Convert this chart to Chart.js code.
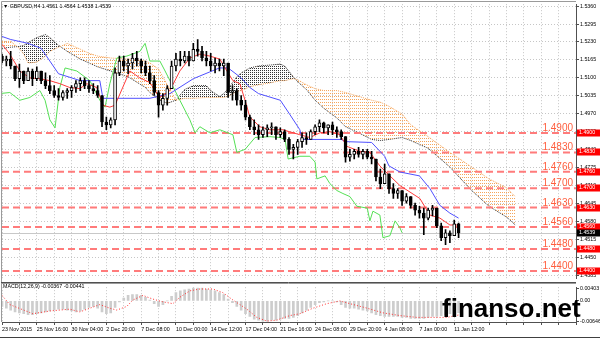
<!DOCTYPE html>
<html>
<head>
<meta charset="utf-8">
<script src="https://cdn.jsdelivr.net/npm/chart.js@4"></script>
<style>
  html, body { margin: 0; padding: 0; background: #fff; }
  #wrap { position: relative; width: 600px; height: 338px; overflow: hidden; }
  canvas { position: absolute; left: 0; }
  #main { top: 0; }
  #macd { top: 283px; }
</style>
</head>
<body>
<div id="wrap">
  <canvas id="main" width="600" height="283"></canvas>
  <canvas id="macd" width="600" height="55"></canvas>
</div>
<script>
// ---- data (one candle = 2 x H4) ----
const xTickLabels = ['23 Nov 2015', '25 Nov 16:00', '30 Nov 04:00', '2 Dec 20:00', '7 Dec 08:00',
  '10 Dec 00:00', '14 Dec 12:00', '17 Dec 04:00', '21 Dec 16:00', '24 Dec 08:00',
  '29 Dec 20:00', '4 Jan 08:00', '7 Jan 00:00', '11 Jan 12:00'];
const priceTicks = [1.5360, 1.5295, 1.5230, 1.5165, 1.5100, 1.5035, 1.4970, 1.4905,
  1.4840, 1.4775, 1.4710, 1.4645, 1.4580, 1.4515, 1.4450, 1.4385];
const levels = [1.4900, 1.4830, 1.4760, 1.4700, 1.4630, 1.4560, 1.4480, 1.4400];
const lastPrice = 1.4539;

const opens = [1.5179,1.5161,1.5168,1.5143,1.5097,1.5125,1.5090,1.5125,1.5097,1.5125,
  1.5090,1.5072,1.5054,1.5036,1.5029,1.5047,1.5054,1.5065,1.5079,1.5090,
  1.5072,1.5061,1.5054,1.5036,1.4940,1.4930,1.4948,1.5118,1.5161,1.5143,
  1.5154,1.5172,1.5161,1.5143,1.5118,1.5090,1.5047,1.5001,1.5026,1.5061,
  1.5143,1.5168,1.5161,1.5179,1.5161,1.5203,1.5196,1.5172,1.5161,1.5143,
  1.5154,1.5143,1.5154,1.5047,1.5054,1.5019,1.5001,1.4958,1.4923,1.4912,
  1.4894,1.4912,1.4919,1.4923,1.4894,1.4905,1.4877,1.4841,1.4848,1.4869,
  1.4884,1.4877,1.4905,1.4923,1.4937,1.4919,1.4930,1.4912,1.4905,1.4887,
  1.4813,1.4823,1.4834,1.4823,1.4834,1.4813,1.4806,1.4741,1.4717,1.4752,
  1.4699,1.4681,1.4692,1.4653,1.4670,1.4638,1.4621,1.4610,1.4592,1.4621,
  1.4628,1.4564,1.4521,1.4539,1.4528,1.4571];
const highs = [1.5186,1.5179,1.5196,1.5143,1.5150,1.5125,1.5136,1.5132,1.5140,1.5125,
  1.5118,1.5108,1.5072,1.5061,1.5054,1.5061,1.5072,1.5090,1.5100,1.5100,
  1.5090,1.5079,1.5072,1.5036,1.4958,1.4955,1.5136,1.5179,1.5179,1.5168,
  1.5189,1.5196,1.5168,1.5161,1.5143,1.5108,1.5054,1.5043,1.5072,1.5161,
  1.5189,1.5196,1.5196,1.5196,1.5225,1.5239,1.5214,1.5196,1.5189,1.5172,
  1.5168,1.5168,1.5154,1.5072,1.5061,1.5036,1.5019,1.4965,1.4948,1.4930,
  1.4923,1.4930,1.4937,1.4923,1.4919,1.4912,1.4884,1.4859,1.4877,1.4901,
  1.4901,1.4912,1.4930,1.4948,1.4940,1.4930,1.4940,1.4923,1.4912,1.4887,
  1.4841,1.4841,1.4848,1.4841,1.4841,1.4834,1.4806,1.4770,1.4788,1.4752,
  1.4717,1.4699,1.4692,1.4681,1.4670,1.4646,1.4635,1.4628,1.4628,1.4638,
  1.4628,1.4574,1.4550,1.4546,1.4585,1.4574];
const lows = [1.5154,1.5143,1.5132,1.5090,1.5065,1.5079,1.5090,1.5072,1.5090,1.5079,
  1.5061,1.5043,1.5029,1.5019,1.5019,1.5026,1.5029,1.5047,1.5054,1.5061,
  1.5047,1.5043,1.5029,1.4923,1.4912,1.4919,1.4930,1.5108,1.5125,1.5115,
  1.5132,1.5143,1.5118,1.5108,1.5079,1.5036,1.4958,1.4983,1.5001,1.5061,
  1.5125,1.5143,1.5154,1.5143,1.5161,1.5179,1.5161,1.5143,1.5125,1.5118,
  1.5125,1.5108,1.5029,1.5019,1.5001,1.4983,1.4948,1.4912,1.4894,1.4877,
  1.4884,1.4887,1.4894,1.4877,1.4884,1.4869,1.4823,1.4806,1.4823,1.4848,
  1.4859,1.4877,1.4894,1.4905,1.4901,1.4894,1.4894,1.4884,1.4877,1.4795,
  1.4798,1.4806,1.4813,1.4806,1.4806,1.4788,1.4727,1.4699,1.4717,1.4681,
  1.4663,1.4663,1.4638,1.4646,1.4628,1.4603,1.4592,1.4532,1.4585,1.4600,
  1.4557,1.4510,1.4496,1.4503,1.4528,1.4521];
const closes = [1.5161,1.5168,1.5143,1.5097,1.5125,1.5090,1.5125,1.5097,1.5125,1.5090,
  1.5072,1.5054,1.5036,1.5029,1.5047,1.5054,1.5065,1.5079,1.5090,1.5072,
  1.5061,1.5054,1.5036,1.4940,1.4930,1.4948,1.5118,1.5161,1.5143,1.5154,
  1.5172,1.5161,1.5143,1.5118,1.5090,1.5047,1.5001,1.5026,1.5061,1.5143,
  1.5168,1.5161,1.5179,1.5161,1.5203,1.5196,1.5172,1.5161,1.5143,1.5154,
  1.5143,1.5154,1.5047,1.5054,1.5019,1.5001,1.4958,1.4923,1.4912,1.4894,
  1.4912,1.4919,1.4923,1.4894,1.4905,1.4877,1.4841,1.4848,1.4869,1.4884,
  1.4877,1.4905,1.4923,1.4937,1.4919,1.4930,1.4912,1.4905,1.4887,1.4813,
  1.4823,1.4834,1.4823,1.4834,1.4813,1.4806,1.4741,1.4717,1.4752,1.4699,
  1.4681,1.4692,1.4653,1.4670,1.4638,1.4621,1.4610,1.4592,1.4621,1.4628,
  1.4564,1.4521,1.4539,1.4528,1.4571,1.4539];

// ichimoku lines as [slot, price] read points
const tenkan = [[0,1.5222],[1.8,1.5186],[4.1,1.5125],[6.4,1.5100],[8.7,1.5097],[11,1.5090],
  [13.3,1.5079],[15.6,1.5065],[17.9,1.5061],[19.5,1.5079],[21.8,1.5065],[23.2,1.5001],
  [24.8,1.4994],[26,1.5001],[29.4,1.5125],[31.7,1.5100],[34,1.5083],[36.3,1.5029],
  [38.6,1.5054],[40.9,1.5125],[43.2,1.5172],[45.5,1.5186],[47.8,1.5179],[50.1,1.5168],
  [51.3,1.5136],[53.1,1.5090],[54.7,1.5079],[55.9,1.5019],[57,1.4958],[59.3,1.4923],
  [61.6,1.4912],[64.6,1.4912],[68.5,1.4894],[70.8,1.4884],[73.1,1.4901],[75.4,1.4905],
  [77.7,1.4894],[79.3,1.4852],[82.3,1.4834],[84.6,1.4830],[86.9,1.4781],[89.2,1.4745],
  [91.5,1.4710],[96.1,1.4663],[98.4,1.4603],[100.7,1.4592],[103,1.4567],[105,1.4567]];
const kijun = [[0,1.5250],[2,1.5239],[6,1.5225],[9,1.5207],[11,1.5161],[13,1.5115],
  [18,1.5090],[22.5,1.5090],[23.2,1.5026],[34,1.5026],[38.6,1.5043],[44,1.5097],
  [50,1.5136],[52,1.5136],[55,1.5100],[57,1.5065],[59,1.5043],[64,1.5019],[66,1.4972],
  [68.5,1.4912],[69,1.4877],[78,1.4877],[79,1.4869],[85,1.4866],[88,1.4816],[89,1.4781],
  [91.5,1.4759],[96,1.4745],[98.4,1.4699],[100.7,1.4638],[103,1.4610],[105,1.4592]];
const chikou = [[0,1.5044],[1.8,1.5047],[4.1,1.5019],[6.4,1.5029],[8.7,1.5054],[9.9,1.5019],
  [11,1.4948],[12.2,1.4919],[13.3,1.5065],[14.5,1.5136],[17.2,1.5125],[20.2,1.5090],
  [22.5,1.5019],[23.7,1.4994],[24.8,1.5079],[26.4,1.5172],[28.7,1.5179],[31.7,1.5196],
  [32.9,1.5225],[34,1.5161],[36.3,1.5161],[37.5,1.5125],[40.9,1.5019],[43.2,1.4948],
  [44.4,1.4901],[45.5,1.4923],[47.8,1.4901],[50.1,1.4912],[53.1,1.4894],[54,1.4830],
  [55.9,1.4841],[58.2,1.4884],[61.6,1.4887],[63.9,1.4884],[65.1,1.4877],[65.8,1.4806],
  [68.5,1.4816],[70.8,1.4816],[72,1.4795],[72.4,1.4734],[74.3,1.4745],[75.4,1.4717],
  [77,1.4692],[78.4,1.4681],[80,1.4670],[81.6,1.4635],[84,1.4628],[84.6,1.4582],
  [85.3,1.4617],[86.9,1.4603],[87.6,1.4521],[89.2,1.4528],[90.4,1.4582],[91.5,1.4557],[92,1.4539]];

const cloudSlots = [0,2,4,5,6,8,10,11,12,13,15,18,20,22,25,29,33,34,36,38,40,42,44,47,48,50,51,
  52,54,55,57,59,62,64,65,67,68,70,72,74,77,79,82,85,87,89,92,94,98,103,108,112,116,118];
const spanA = [1.5232,1.5232,1.5207,1.5186,1.5154,1.5157,1.5179,1.5196,1.5204,1.5211,1.5225,
  1.5204,1.5189,1.5179,1.5172,1.5168,1.5161,1.5154,1.5132,1.5075,1.5019,1.5026,1.5026,1.5029,
  1.5029,1.5029,1.5029,1.5033,1.5051,1.5054,1.5068,1.5075,1.5083,1.5090,1.5090,1.5097,1.5093,
  1.5075,1.5061,1.5054,1.5054,1.5047,1.5033,1.5019,1.5012,1.4997,1.4969,1.4930,1.4887,1.4830,
  1.4777,1.4734,1.4702,1.4670];
const spanB = [1.5207,1.5211,1.5214,1.5218,1.5228,1.5246,1.5257,1.5246,1.5232,1.5218,1.5196,
  1.5168,1.5154,1.5140,1.5125,1.5104,1.5065,1.5047,1.5022,1.5008,1.5019,1.5058,1.5072,1.5072,
  1.5054,1.5033,1.5043,1.5061,1.5104,1.5118,1.5136,1.5143,1.5147,1.5150,1.5143,1.5104,1.5086,
  1.5058,1.5019,1.4990,1.4955,1.4923,1.4901,1.4877,1.4873,1.4877,1.4884,1.4873,1.4845,1.4777,
  1.4692,1.4635,1.4596,1.4568];

const macdMain = [-0.00172,-0.00229,-0.00287,-0.00344,-0.00373,-0.00401,
  -0.00430,-0.00430,-0.00401,-0.00373,-0.00344,-0.00315,
  -0.00287,-0.00258,-0.00258,-0.00287,-0.00315,-0.00344,
  -0.00315,-0.00258,-0.00201,-0.00172,-0.00229,-0.00344,
  -0.00401,-0.00373,-0.00201,-0.00029,0.00086,0.00172,
  0.00201,0.00201,0.00172,0.00115,0.00029,-0.00086,
  -0.00172,-0.00115,0.0,0.00143,0.00258,0.00315,
  0.00344,0.00373,0.00401,0.00401,0.00401,0.00373,
  0.00344,0.00315,0.00258,0.00201,0.00057,-0.00057,
  -0.00172,-0.00287,-0.00401,-0.00488,-0.00574,-0.00602,
  -0.00631,-0.00631,-0.00602,-0.00602,-0.00574,-0.00545,
  -0.00545,-0.00516,-0.00459,-0.00373,-0.00287,-0.00201,
  -0.00115,-0.00057,-0.00029,0.0,0.0,-0.00029,
  -0.00115,-0.00201,-0.00229,-0.00229,-0.00258,-0.00287,
  -0.00315,-0.00373,-0.00430,-0.00459,-0.00488,-0.00488,
  -0.00488,-0.00488,-0.00516,-0.00516,-0.00545,-0.00545,
  -0.00545,-0.00545,-0.00516,-0.00488,-0.00488,-0.00459,
  -0.00430,-0.00401,-0.00373,-0.00367];
const macdSignal = [[0,0.00172],[1.8,-0.00115],[7.1,-0.00401],[11,-0.00315],[15.6,-0.00258],
  [17.9,-0.00344],[20.2,-0.00229],[22.5,-0.00115],[24.8,-0.00229],[26.4,-0.00287],[28.7,-0.00172],
  [30.1,0.00029],[32.4,0.00172],[34.7,0.00057],[37,-0.00029],[39.3,-0.00086],[40.9,0.00115],
  [43.2,0.00315],[45.5,0.00373],[48.5,0.00373],[50.8,0.00258],[53.1,0.00029],[56.3,-0.00258],
  [58.6,-0.00516],[60.9,-0.00631],[63.2,-0.00602],[66.2,-0.00459],[68.5,-0.00401],[71.5,-0.00229],
  [74.7,-0.00086],[77.7,0],[80,-0.00086],[84,-0.00229],[87.6,-0.00373],[91.5,-0.00459],
  [95.4,-0.00516],[99.1,-0.00516],[102.3,-0.00516],[105,-0.00441]];
const macdTicks = [0.00403, 0, -0.00646];

// ---- helpers ----
const FONT = '"Liberation Sans", Arial, sans-serif';
const SMALL = 5.3;
const SLOT_MAX = 132;
const gridSlots = [];
for (let s = 0; s <= SLOT_MAX; s += 4) gridSlots.push(s);
const pts = arr => arr.map(([x, y]) => ({ x, y }));

function dotPattern(color, w, h) {
  const c = document.createElement('canvas');
  c.width = w; c.height = h;
  const g = c.getContext('2d');
  g.fillStyle = color;
  g.fillRect(0, 0, 1, 1);
  return document.getElementById('main').getContext('2d').createPattern(c, 'repeat');
}

const baseOpts = {
  responsive: false,
  animation: false,
  devicePixelRatio: 1,
  events: [],
  plugins: { legend: { display: false }, tooltip: { enabled: false } }
};

function xScale(showLabels) {
  return {
    type: 'linear', min: 0, max: SLOT_MAX, offset: false,
    afterBuildTicks: s => { s.ticks = gridSlots.map(v => ({ value: v })); },
    afterFit: s => { s.height = showLabels ? 16 : 0; },
    grid: { color: '#c6c6c6', offset: false, drawTicks: showLabels, tickLength: 3, tickColor: '#505050' },
    border: { display: showLabels, color: '#505050', dash: [1, 2] },
    ticks: {
      display: showLabels, autoSkip: false, maxRotation: 0, align: 'start', padding: 1,
      color: '#000', font: { size: SMALL, family: FONT },
      callback: v => (v % 8 === 0 && xTickLabels[v / 8]) ? xTickLabels[v / 8] : ''
    }
  };
}

// ---- main price panel ----
const mainOverlay = {
  id: 'mainOverlay',
  beforeDatasetsDraw(chart) {
    const { ctx, chartArea: a, scales: { y } } = chart;
    const py = Math.round(y.getPixelForValue(lastPrice)) + 0.5;
    ctx.save();
    ctx.strokeStyle = '#c8c8c8';
    ctx.lineWidth = 1;
    ctx.beginPath(); ctx.moveTo(a.left, py); ctx.lineTo(a.right, py); ctx.stroke();
    ctx.restore();
  },
  afterDraw(chart) {
    const { ctx, chartArea: a, scales: { y } } = chart;
    ctx.save();
    ctx.lineWidth = 1;
    ctx.strokeStyle = '#9a9a9a';
    ctx.beginPath(); ctx.moveTo(1.5, 283); ctx.lineTo(1.5, 1.5); ctx.lineTo(a.right, 1.5); ctx.stroke();
    ctx.strokeStyle = '#505050';
    ctx.beginPath(); ctx.moveTo(1, 282.5); ctx.lineTo(a.right, 282.5); ctx.stroke();

    // level captions
    ctx.font = '10px ' + FONT;
    ctx.fillStyle = '#ff5f3f';
    ctx.textAlign = 'right';
    ctx.textBaseline = 'alphabetic';
    levels.forEach(v => ctx.fillText(v.toFixed(4), a.right - 3, y.getPixelForValue(v) - 2));

    // price boxes on the axis
    ctx.font = SMALL + 'px ' + FONT;
    ctx.textAlign = 'left';
    ctx.textBaseline = 'middle';
    const box = (v, bg) => {
      const py = Math.round(y.getPixelForValue(v));
      ctx.fillStyle = bg;
      ctx.fillRect(a.right + 1, py - 3.5, 23, 7);
      ctx.fillStyle = '#fff';
      ctx.fillText(v.toFixed(4), a.right + 3, py);
    };
    levels.forEach(v => box(v, '#ff0000'));
    box(lastPrice, '#000');

    ctx.fillStyle = '#000';
    ctx.fillText('\u25BC GBPUSD,H4 1.4561 1.4564 1.4538 1.4539', 3, 6.5);
    ctx.restore();
  }
};

const orangeDots = dotPattern('#f5a55a', 2, 3);
const darkDots = dotPattern('#333333', 2, 2);

new Chart(document.getElementById('main'), {
  type: 'line',
  data: {
    datasets: [
      {
        type: 'bar', order: 0, grouped: false, barThickness: 3,
        data: opens.map((o, i) => ({ x: i, y: [Math.min(o, closes[i]), Math.max(o, closes[i])] })),
        backgroundColor: c => closes[c.dataIndex] >= opens[c.dataIndex] ? '#ffffff' : '#000000',
        borderColor: '#000', borderWidth: 1, borderSkipped: false
      },
      {
        type: 'bar', order: 1, grouped: false, barThickness: 1,
        data: highs.map((h, i) => ({ x: i, y: [lows[i], h] })),
        backgroundColor: '#000'
      },
      { data: pts(tenkan), borderColor: '#ff3c3c', borderWidth: 1, pointRadius: 0, order: 2 },
      { data: pts(kijun), borderColor: '#5050ff', borderWidth: 1, pointRadius: 0, order: 2 },
      { data: pts(chikou), borderColor: '#55e055', borderWidth: 1, pointRadius: 0, order: 2 },
      {
        data: cloudSlots.map((x, i) => ({ x, y: spanA[i] })),
        borderColor: '#f5a55a', borderWidth: 1, borderDash: [1, 1], pointRadius: 0, order: 4,
        fill: { target: '+1', above: orangeDots, below: darkDots }
      },
      {
        data: cloudSlots.map((x, i) => ({ x, y: spanB[i] })),
        borderColor: '#303030', borderWidth: 1, borderDash: [1, 1], pointRadius: 0, order: 4
      },
      ...levels.map(v => ({
        data: [{ x: 0, y: v }, { x: SLOT_MAX, y: v }],
        borderColor: '#ff7b7b', borderWidth: 2, borderDash: [7, 4], pointRadius: 0, order: 3
      }))
    ]
  },
  options: {
    ...baseOpts,
    layout: { padding: { left: 2, top: 2, right: 0, bottom: 1 } },
    scales: {
      x: xScale(false),
      y: {
        position: 'right', min: 1.4372, max: 1.5367,
        afterBuildTicks: s => { s.ticks = priceTicks.map(v => ({ value: v })); },
        afterFit: s => { s.width = 24; },
        grid: { color: '#c6c6c6', tickLength: 3, tickColor: '#505050' },
        border: { color: '#505050', dash: [1, 2] },
        ticks: { color: '#000', padding: 1, font: { size: SMALL, family: FONT }, callback: v => v.toFixed(4) }
      }
    }
  },
  plugins: [mainOverlay]
});

// ---- MACD panel ----
const macdOverlay = {
  id: 'macdOverlay',
  afterDraw(chart) {
    const { ctx, chartArea: a } = chart;
    ctx.save();
    ctx.lineWidth = 1;
    ctx.strokeStyle = '#9a9a9a';
    ctx.beginPath(); ctx.moveTo(1, 0.5); ctx.lineTo(a.right, 0.5); ctx.stroke();
    ctx.beginPath(); ctx.moveTo(1.5, 0); ctx.lineTo(1.5, a.bottom); ctx.stroke();
    ctx.strokeStyle = '#404040';
    ctx.beginPath(); ctx.moveTo(0, 54.5); ctx.lineTo(600, 54.5); ctx.stroke();

    ctx.fillStyle = '#000';
    ctx.font = SMALL + 'px ' + FONT;
    ctx.textAlign = 'left';
    ctx.textBaseline = 'middle';
    ctx.fillText('MACD(12,26,9) -0.00367 -0.00441', 3, 3.8);

    ctx.font = 'bold 26px ' + FONT;
    ctx.textBaseline = 'alphabetic';
    ctx.fillText('finanso.net', 442, 34);
    ctx.restore();
  }
};

new Chart(document.getElementById('macd'), {
  type: 'line',
  data: {
    datasets: [
      {
        type: 'bar', order: 1, grouped: false, barThickness: 2,
        data: macdMain.map((v, i) => ({ x: i, y: v })),
        backgroundColor: '#cdcdcd'
      },
      {
        data: pts(macdSignal), borderColor: '#ff3030', borderWidth: 1, borderDash: [1, 2],
        pointRadius: 0, order: 0
      }
    ]
  },
  options: {
    ...baseOpts,
    layout: { padding: { left: 2, top: 1, right: 0, bottom: 0 } },
    scales: {
      x: xScale(true),
      y: {
        position: 'right', min: -0.0066, max: 0.0043,
        afterBuildTicks: s => { s.ticks = macdTicks.map(v => ({ value: v })); },
        afterFit: s => { s.width = 24; },
        grid: { drawOnChartArea: false, tickLength: 3, tickColor: '#505050' },
        border: { color: '#505050' },
        ticks: {
          color: '#000', padding: 1, font: { size: SMALL, family: FONT },
          callback: v => v === 0 ? '0.00' : v.toFixed(5)
        }
      }
    }
  },
  plugins: [macdOverlay]
});
</script>
</body>
</html>
